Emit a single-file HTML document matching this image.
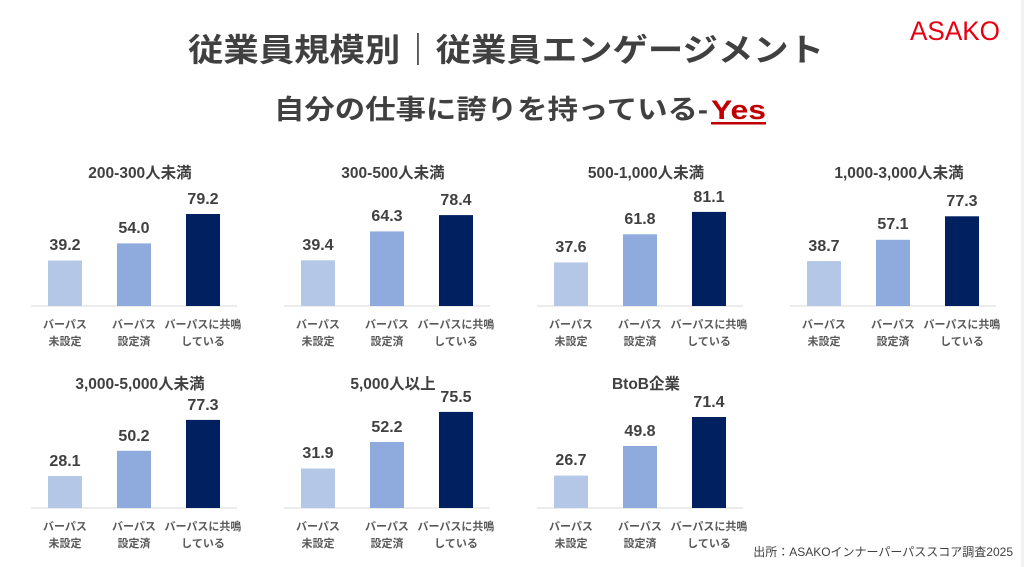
<!DOCTYPE html>
<html><head><meta charset="utf-8"><style>
body{margin:0;background:#fff;}
svg{display:block;font-family:"Liberation Sans","Noto Sans CJK JP",sans-serif;}
.t{font-size:15.5px;font-weight:bold;fill:#404040;text-anchor:middle}
.v{font-size:16px;font-weight:bold;fill:#404040;text-anchor:middle}
.c{font-size:11px;font-weight:bold;fill:#595959;text-anchor:middle}
</style></head><body>
<svg width="1024" height="567" viewBox="0 0 1024 567">
<rect x="1021" y="0" width="3" height="567" fill="#f2f2f2"/>
<text x="188" y="61" font-size="32" font-weight="bold" fill="#404040" textLength="636" lengthAdjust="spacingAndGlyphs">従業員規模別｜従業員エンゲージメント</text>
<text x="910" y="40" font-size="27" fill="#e60012" textLength="90" lengthAdjust="spacingAndGlyphs" style="font-family:'Liberation Sans',sans-serif">ASAKO</text>
<text x="274" y="119" font-size="27" font-weight="bold" fill="#404040" textLength="434" lengthAdjust="spacingAndGlyphs">自分の仕事に誇りを持っている-</text>
<text x="711" y="119" font-size="27" font-weight="bold" fill="#c00000" textLength="55" lengthAdjust="spacingAndGlyphs">Yes</text>
<rect x="711" y="122" width="55" height="2.5" fill="#c00000"/>

<!-- row1 -->
<g>
<text class="t" x="140" y="178">200-300人未満</text>
<line x1="31" y1="306" x2="237" y2="306" stroke="#d9d9d9"/>
<rect x="48" y="260.5" width="34" height="45.5" fill="#b4c7e7"/><text class="v" x="65" y="250">39.2</text>
<rect x="117" y="243.4" width="34" height="62.6" fill="#8faadc"/><text class="v" x="134" y="233">54.0</text>
<rect x="186" y="214" width="34" height="92" fill="#002060"/><text class="v" x="203" y="204">79.2</text>
<text class="c" x="65" y="328">バーパス</text><text class="c" x="65" y="345">未設定</text>
<text class="c" x="134" y="328">バーパス</text><text class="c" x="134" y="345">設定済</text>
<text class="c" x="203" y="328">バーパスに共鳴</text><text class="c" x="203" y="345">している</text>
</g>
<g transform="translate(253,0)">
<text class="t" x="140" y="178">300-500人未満</text>
<line x1="31" y1="306" x2="237" y2="306" stroke="#d9d9d9"/>
<rect x="48" y="260.3" width="34" height="45.7" fill="#b4c7e7"/><text class="v" x="65" y="250">39.4</text>
<rect x="117" y="231.4" width="34" height="74.6" fill="#8faadc"/><text class="v" x="134" y="221">64.3</text>
<rect x="186" y="215.1" width="34" height="90.9" fill="#002060"/><text class="v" x="203" y="205">78.4</text>
<text class="c" x="65" y="328">バーパス</text><text class="c" x="65" y="345">未設定</text>
<text class="c" x="134" y="328">バーパス</text><text class="c" x="134" y="345">設定済</text>
<text class="c" x="203" y="328">バーパスに共鳴</text><text class="c" x="203" y="345">している</text>
</g>
<g transform="translate(506,0)">
<text class="t" x="140" y="178">500-1,000人未満</text>
<line x1="31" y1="306" x2="237" y2="306" stroke="#d9d9d9"/>
<rect x="48" y="262.4" width="34" height="43.6" fill="#b4c7e7"/><text class="v" x="65" y="252">37.6</text>
<rect x="117" y="234.3" width="34" height="71.7" fill="#8faadc"/><text class="v" x="134" y="224">61.8</text>
<rect x="186" y="211.9" width="34" height="94.1" fill="#002060"/><text class="v" x="203" y="202">81.1</text>
<text class="c" x="65" y="328">バーパス</text><text class="c" x="65" y="345">未設定</text>
<text class="c" x="134" y="328">バーパス</text><text class="c" x="134" y="345">設定済</text>
<text class="c" x="203" y="328">バーパスに共鳴</text><text class="c" x="203" y="345">している</text>
</g>
<g transform="translate(759,0)">
<text class="t" x="140" y="178">1,000-3,000人未満</text>
<line x1="31" y1="306" x2="237" y2="306" stroke="#d9d9d9"/>
<rect x="48" y="261.1" width="34" height="44.9" fill="#b4c7e7"/><text class="v" x="65" y="251">38.7</text>
<rect x="117" y="239.8" width="34" height="66.2" fill="#8faadc"/><text class="v" x="134" y="229">57.1</text>
<rect x="186" y="216.3" width="34" height="89.7" fill="#002060"/><text class="v" x="203" y="206">77.3</text>
<text class="c" x="65" y="328">バーパス</text><text class="c" x="65" y="345">未設定</text>
<text class="c" x="134" y="328">バーパス</text><text class="c" x="134" y="345">設定済</text>
<text class="c" x="203" y="328">バーパスに共鳴</text><text class="c" x="203" y="345">している</text>
</g>
<!-- row2 -->
<g>
<text class="t" x="140" y="389">3,000-5,000人未満</text>
<line x1="31" y1="508" x2="237" y2="508" stroke="#d9d9d9"/>
<rect x="48" y="476" width="34" height="32" fill="#b4c7e7"/><text class="v" x="65" y="466">28.1</text>
<rect x="117" y="450.8" width="34" height="57.2" fill="#8faadc"/><text class="v" x="134" y="441">50.2</text>
<rect x="186" y="419.9" width="34" height="88.1" fill="#002060"/><text class="v" x="203" y="410">77.3</text>
<text class="c" x="65" y="530">バーパス</text><text class="c" x="65" y="547">未設定</text>
<text class="c" x="134" y="530">バーパス</text><text class="c" x="134" y="547">設定済</text>
<text class="c" x="203" y="530">バーパスに共鳴</text><text class="c" x="203" y="547">している</text>
</g>
<g transform="translate(253,0)">
<text class="t" x="140" y="389">5,000人以上</text>
<line x1="31" y1="508" x2="237" y2="508" stroke="#d9d9d9"/>
<rect x="48" y="468.5" width="34" height="39.5" fill="#b4c7e7"/><text class="v" x="65" y="458">31.9</text>
<rect x="117" y="442" width="34" height="66" fill="#8faadc"/><text class="v" x="134" y="432">52.2</text>
<rect x="186" y="411.9" width="34" height="96.1" fill="#002060"/><text class="v" x="203" y="402">75.5</text>
<text class="c" x="65" y="530">バーパス</text><text class="c" x="65" y="547">未設定</text>
<text class="c" x="134" y="530">バーパス</text><text class="c" x="134" y="547">設定済</text>
<text class="c" x="203" y="530">バーパスに共鳴</text><text class="c" x="203" y="547">している</text>
</g>
<g transform="translate(506,0)">
<text class="t" x="140" y="389">BtoB企業</text>
<line x1="31" y1="508" x2="237" y2="508" stroke="#d9d9d9"/>
<rect x="48" y="475.6" width="34" height="32.4" fill="#b4c7e7"/><text class="v" x="65" y="465">26.7</text>
<rect x="117" y="446" width="34" height="62" fill="#8faadc"/><text class="v" x="134" y="436">49.8</text>
<rect x="186" y="417" width="34" height="91" fill="#002060"/><text class="v" x="203" y="407">71.4</text>
<text class="c" x="65" y="530">バーパス</text><text class="c" x="65" y="547">未設定</text>
<text class="c" x="134" y="530">バーパス</text><text class="c" x="134" y="547">設定済</text>
<text class="c" x="203" y="530">バーパスに共鳴</text><text class="c" x="203" y="547">している</text>
</g>
<text x="1013" y="556" text-anchor="end" font-size="12" fill="#404040">出所：ASAKOインナーパーパススコア調査2025</text>
</svg>
</body></html>
